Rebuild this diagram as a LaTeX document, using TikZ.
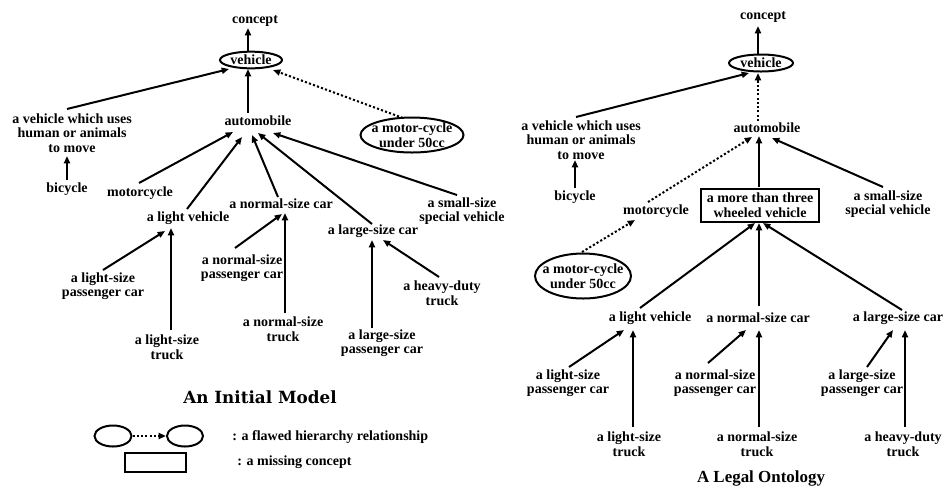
\documentclass[tikz,border=0pt]{standalone}
\usepackage{fontspec}
\newfontfamily\tnr{Liberation Serif}
\newfontfamily\slab{DejaVu Serif}
\usetikzlibrary{arrows.meta,calc,shapes.geometric}

\tikzset{
  lbl/.style={font=\tnr\bfseries\fontsize{10.5}{10.9}\selectfont, align=center, inner sep=0pt},
  ell/.style={lbl, draw, ellipse, line width=1.5pt, inner xsep=-7pt, inner ysep=-3pt},
  boxed/.style={lbl, draw, rectangle, line width=1.5pt},
  arr/.style={line width=1.5pt, -{Triangle[length=5.5pt,width=4.5pt]}},
  dotarr/.style={arr, dash pattern=on 1.6pt off 1.6pt},
  headA/.style={font=\slab\bfseries\fontsize{12.6}{14}\selectfont, inner sep=0pt},
  headB/.style={font=\tnr\bfseries\fontsize{12.7}{14}\selectfont, inner sep=0pt},
}

\begin{document}
\begin{tikzpicture}[x=0.75pt, y=-0.75pt]
\useasboundingbox (0,0) rectangle (945,487);
\fill[white] (0,0) rectangle (945,487);

% ---------------- initial model ----------------
\node[lbl] (cL) at (255,21) {concept};
\node[ell, minimum width=46.5pt, minimum height=12.5pt] (vL) at (251,60) {vehicle};
\node[lbl] (autoL) at (258,121) {automobile};
\node[lbl] (humL) at (72,133) {a vehicle which uses\\human or animals\\to move};
\node[lbl] (bikeL) at (67,189) {bicycle};
\node[ell, minimum width=77.25pt, minimum height=26.25pt] (mcEL) at (412,135) {a motor-cycle\\under 50cc};
\node[lbl] (motoL) at (140,193) {motorcycle};
\node[lbl] (lightL) at (188,218) {a light vehicle};
\node[lbl] (normL) at (281,204) {a normal-size car};
\node[lbl] (largeL) at (373,231) {a large-size car};
\node[lbl] (smallL) at (462,211) {a small-size\\special vehicle};
\node[lbl] (lpcL) at (103,286) {a light-size\\passenger car};
\node[lbl] (ltL) at (167,347) {a light-size\\truck};
\node[lbl] (npcL) at (242,268) {a normal-size\\passenger car};
\node[lbl] (ntL) at (283,329) {a normal-size\\truck};
\node[lbl] (lgpcL) at (382,343) {a large-size\\passenger car};
\node[lbl] (hdL) at (442,293) {a heavy-duty\\truck};

\draw[arr] ($(vL)+(-3,-8)$) -- ($(cL)+(-7,7)$);
\draw[arr] ($(autoL)+(-10,-8)$) -- ($(vL)+(-3,9)$);
\draw[arr] ($(humL)+(-5,-24)$) -- ($(vL)+(-22,9)$);
\draw[arr] ($(bikeL)+(0,-9)$) -- ($(humL)+(-5,23)$);
\draw[dotarr] ($(mcEL)+(-9,-17)$) -- ($(vL)+(22,10)$);
\draw[arr] ($(motoL)+(-1,-10)$) -- ($(autoL)+(-25,11)$);
\draw[arr] ($(lightL)+(-1,-9)$) -- ($(autoL)+(-16,16)$);
\draw[arr] ($(normL)+(-3,-7)$) -- ($(autoL)+(-6,14)$);
\draw[arr] ($(largeL)+(-1,-7)$) -- ($(autoL)+(0,12)$);
\draw[arr] ($(smallL)+(-5,-16)$) -- ($(autoL)+(15,12)$);
\draw[arr] ($(lpcL)+(0,-16)$) -- ($(lightL)+(-23,13)$);
\draw[arr] ($(ltL)+(4,-17)$) -- ($(lightL)+(-17,10)$);
\draw[arr] ($(npcL)+(-7,-20)$) -- ($(normL)+(1,10)$);
\draw[arr] ($(ntL)+(2,-16)$) -- ($(normL)+(4,9)$);
\draw[arr] ($(lgpcL)+(-10,-15)$) -- ($(largeL)+(-1,9)$);
\draw[arr] ($(hdL)+(-3,-16)$) -- ($(largeL)+(10,9)$);

\node[headA] (titleL) at (260,397) {An Initial Model};

% legend
\node[draw, ellipse, line width=1.5pt, minimum width=27.75pt, minimum height=15.75pt, inner sep=0pt] (legA) at (113,436) {};
\node[draw, ellipse, line width=1.5pt, minimum width=27pt, minimum height=15.75pt, inner sep=0pt] (legB) at (185,436) {};
\draw[dotarr] (legA.east) -- (legB.west);
\node[draw, rectangle, line width=1.5pt, minimum width=45.75pt, minimum height=14.25pt, inner sep=0pt] (legR) at (155,462) {};
\node[lbl, anchor=west] (legTa) at (232,437) {: a flawed hierarchy relationship};
\node[lbl, anchor=west] (legTb) at (237,462) {: a missing concept};

% ---------------- legal ontology ----------------
\node[lbl] (cR) at (763,17) {concept};
\node[ell, minimum width=48pt, minimum height=12.75pt] (vR) at (761,63) {vehicle};
\node[lbl] (autoR) at (767,128) {automobile};
\node[lbl] (humR) at (581,140) {a vehicle which uses\\human or animals\\to move};
\node[lbl] (bikeR) at (575,197) {bicycle};
\node[lbl] (motoR) at (656,211) {motorcycle};
\node[boxed, minimum width=88.5pt, minimum height=24.75pt] (boxR) at (760,205) {a more than three\\wheeled vehicle};
\node[lbl] (smallR) at (888,204) {a small-size\\special vehicle};
\node[ell, minimum width=72pt, minimum height=33.75pt] (mcER) at (583,276) {a motor-cycle\\under 50cc};
\node[lbl] (lightR) at (650,318) {a light vehicle};
\node[lbl] (normR) at (758,318) {a normal-size car};
\node[lbl] (largeR) at (898,318) {a large-size car};
\node[lbl] (lpcR) at (568,383) {a light-size\\passenger car};
\node[lbl] (ltR) at (629,444) {a light-size\\truck};
\node[lbl] (npcR) at (715,383) {a normal-size\\passenger car};
\node[lbl] (ntR) at (757,444) {a normal-size\\truck};
\node[lbl] (lgpcR) at (862,383) {a large-size\\passenger car};
\node[lbl] (hdR) at (903,444) {a heavy-duty\\truck};

\draw[arr] ($(vR)+(-3,-9)$) -- ($(cR)+(-5,9)$);
\draw[dotarr] ($(autoR)+(-9,-7)$) -- ($(vR)+(-3,10)$);
\draw[arr] ($(humR)+(-5,-23)$) -- ($(vR)+(-12,10)$);
\draw[arr] ($(bikeR)+(0,-9)$) -- ($(humR)+(-6,20)$);
\draw[dotarr] ($(motoR)+(-8,-9)$) -- ($(autoR)+(-15,9)$);
\draw[arr] ($(boxR)+(-1,-18)$) -- ($(autoR)+(-8,8)$);
\draw[arr] ($(smallR)+(-5,-17)$) -- ($(autoR)+(5,10)$);
\draw[dotarr] ($(mcER)+(-1,-24)$) -- ($(motoR)+(-21,9)$);
\draw[arr] ($(lightR)+(-10,-10)$) -- ($(boxR)+(-5,18)$);
\draw[arr] ($(normR)+(1,-12)$) -- ($(boxR)+(-1,18)$);
\draw[arr] ($(largeR)+(4,-8)$) -- ($(boxR)+(3,18)$);
\draw[arr] ($(lpcR)+(1,-16)$) -- ($(lightR)+(-26,12)$);
\draw[arr] ($(ltR)+(4,-17)$) -- ($(lightR)+(-17,12)$);
\draw[arr] ($(npcR)+(-7,-20)$) -- ($(normR)+(-12,12)$);
\draw[arr] ($(ntR)+(2,-17)$) -- ($(normR)+(1,12)$);
\draw[arr] ($(lgpcR)+(5,-16)$) -- ($(largeR)+(-5,12)$);
\draw[arr] ($(hdR)+(2,-17)$) -- ($(largeR)+(7,12)$);

\node[headB] (titleR) at (761,478) {A Legal Ontology};
\end{tikzpicture}
\end{document}
